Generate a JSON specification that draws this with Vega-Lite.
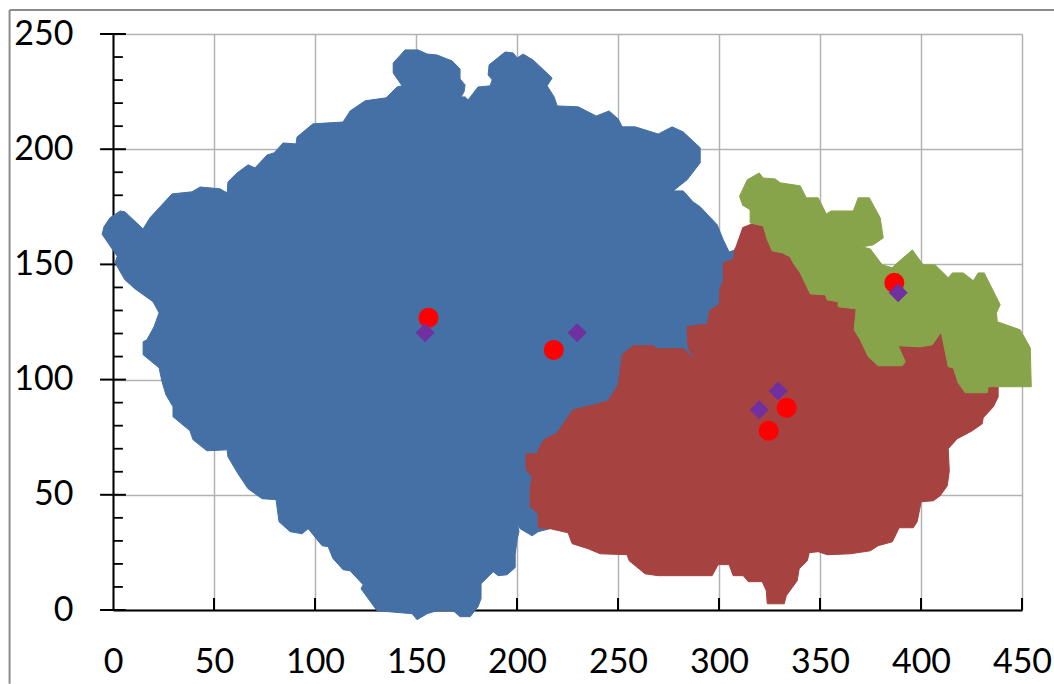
{"$schema":"https://vega.github.io/schema/vega-lite/v6.json","width":909,"height":576,"autosize":{"type":"none"},"padding":{"left":113,"top":34,"right":32,"bottom":74},"background":"white","config":{"view":{"stroke":null}},
"datasets":{
"frame":[{"x":-51.2,"x2":-51.2,"y":-32,"y2":260.4},{"x":-51.2,"x2":466,"y":260.4,"y2":260.4}],
"hmajor":[{"x":-6.4,"x2":6.4,"y":0},{"x":-6.4,"x2":6.4,"y":50},{"x":-6.4,"x2":6.4,"y":100},{"x":-6.4,"x2":6.4,"y":150},{"x":-6.4,"x2":6.4,"y":200},{"x":-6.4,"x2":6.4,"y":250}],
"hminor":[{"x":0,"x2":4.9,"y":10},{"x":0,"x2":4.9,"y":20},{"x":0,"x2":4.9,"y":30},{"x":0,"x2":4.9,"y":40},{"x":0,"x2":4.9,"y":60},{"x":0,"x2":4.9,"y":70},{"x":0,"x2":4.9,"y":80},{"x":0,"x2":4.9,"y":90},{"x":0,"x2":4.9,"y":110},{"x":0,"x2":4.9,"y":120},{"x":0,"x2":4.9,"y":130},{"x":0,"x2":4.9,"y":140},{"x":0,"x2":4.9,"y":160},{"x":0,"x2":4.9,"y":170},{"x":0,"x2":4.9,"y":180},{"x":0,"x2":4.9,"y":190},{"x":0,"x2":4.9,"y":210},{"x":0,"x2":4.9,"y":220},{"x":0,"x2":4.9,"y":230},{"x":0,"x2":4.9,"y":240}],
"xticks":[{"x":50,"y":0,"y2":5.2},{"x":100,"y":0,"y2":5.2},{"x":150,"y":0,"y2":5.2},{"x":200,"y":0,"y2":5.2},{"x":250,"y":0,"y2":5.2},{"x":300,"y":0,"y2":5.2},{"x":350,"y":0,"y2":5.2},{"x":400,"y":0,"y2":5.2},{"x":450,"y":0,"y2":5.2}],
"blue":[[-5.4,162.8],[-4.5,166.3],[-1.5,170.2],[3.5,173.2],[5.9,172.8],[14.9,165.4],[18.3,170.2],[23.3,175],[29.2,180.6],[39.1,181.5],[43.1,183.6],[53,182.8],[56.5,181],[56.9,185.8],[61.4,189.7],[66.9,193.2],[70.3,191.9],[76.3,197.5],[79.7,198.4],[84.2,202.7],[90.6,202.3],[91.1,205.3],[99,211],[113.9,211.8],[117.4,216.6],[124.8,221],[135.2,222.3],[140.6,227],[143.1,227.5],[138.7,233.1],[138.7,237.4],[144.6,243.1],[151,243.1],[155.5,241.3],[160.4,240.9],[167.9,238.3],[171.8,234.8],[171.8,230.5],[174.3,227.9],[173.8,224.9],[172.3,222.7],[174.3,222.7],[175.8,221.4],[180.7,227],[186.7,227.5],[187.7,230.1],[185.7,232.2],[186.2,236.6],[194.1,242.2],[198.1,241.8],[200.1,239.6],[203,241.3],[208,238.7],[217.4,230.9],[214.9,227.5],[218.4,222.7],[219.9,218.8],[230.3,218.4],[239.2,214.4],[245.6,216.6],[250.1,213.1],[252.1,209.7],[258.5,209.7],[269.9,206.6],[276.8,209.7],[282.3,207.5],[290.7,200.6],[290.7,194.1],[284.2,186.7],[277.3,181.9],[282.3,181.9],[287.2,177.1],[290.7,175],[299.1,167.2],[302.1,160.7],[305,155.4],[308,156.3],[310.5,134.6],[298.1,91.2],[265.9,82.6],[231.3,73.9],[213.9,56.5],[216.4,35.3],[210.5,34],[207.5,32.2],[201.5,35.3],[200.1,37.9],[201,34],[200.1,30.9],[199.1,24],[199.1,18.4],[195.1,15.3],[190.7,14.9],[188.2,16.6],[182.2,11.4],[182.2,4.9],[180.7,1.4],[176.8,-2.9],[171.8,-2.9],[168.4,-0.3],[160.4,-0.3],[155.5,-1.6],[150.5,-4.2],[148.1,-1.6],[130.7,-0.3],[122.8,9.2],[123.8,11],[117.4,17],[113.9,17.5],[108.9,22.3],[106.5,27.5],[103.5,27.9],[96.6,35.3],[93.6,33.1],[87.7,34],[82.2,38.3],[80.7,47.9],[73.8,48.3],[66.9,52.6],[61.9,59.1],[56.9,66.5],[56.5,69.5],[46.5,69.1],[39.6,73.9],[38.1,77.8],[29.7,83.9],[29.7,88.2],[26.2,93.4],[24.3,99],[22.8,105.1],[14.9,110.8],[14.9,116.4],[16.8,117.3],[20.3,122.9],[22.8,129],[19.8,133.8],[10.9,139.4],[5.9,143.3],[1,150.7],[2,153.3]],
"red":[[311.5,165.9],[316.4,167.6],[321.9,166.7],[340.2,156.3],[369.9,139],[379.8,117.3],[407,119.4],[410,120.7],[426.9,108.6],[431.8,98.2],[438.2,98.2],[438.2,92.5],[435.8,88.2],[430.8,83.4],[430.3,80.8],[425.4,77.8],[417.9,74.3],[413.5,70],[414,60.4],[413,53.9],[409.5,49.6],[406.1,47.4],[400.1,47],[398.1,38.3],[396.2,35.7],[389.2,35.7],[385.8,29.6],[378.8,27.9],[374.9,25.7],[365,24.4],[353.6,24],[349.1,25.3],[344.7,24.9],[343.7,21.4],[339.7,17.9],[338.7,12.7],[333.3,6.2],[332.3,2.7],[323.9,2.7],[323.4,8.4],[321.4,12.3],[314.5,12.3],[312,14.9],[307,14.9],[305,19.7],[299.6,19.7],[296.6,14.9],[290.7,14.9],[269.9,14.9],[263.4,15.7],[255.5,21.4],[254.5,24],[241.2,24.4],[235.2,26.6],[227.3,28.8],[225.3,33.5],[216.4,35.3],[210.5,35.7],[210.5,41.8],[206.5,44.8],[206.5,52.6],[207.5,57.8],[204.5,60.9],[204.5,67.8],[210,67.8],[211,70.4],[213.4,73.9],[219.9,76.9],[227.8,86.9],[240.2,89.5],[245.1,90.8],[250.1,97.7],[252.1,110.8],[257.5,114.7],[267.4,114.7],[269.4,113.4],[282.3,113.4],[289.2,107.7],[284.7,113.4],[284.2,122.9],[290.7,123.8],[294.2,123.8],[295.6,130.3],[300.1,132.5],[300.6,140.3],[302.1,142.4],[302.1,150.7],[307,152],[308,157.2]],
"green":[[310,179.3],[314,186.7],[319.9,189.7],[321.9,187.5],[327.8,187.1],[330.3,185.4],[340.2,184.1],[343.2,178.9],[349.1,178.9],[353.1,171.9],[355.6,173.2],[366.5,173.2],[368.9,178.9],[374.4,178.9],[379.8,170.2],[381.3,161.5],[376.4,158.5],[370.9,157.6],[374.9,156.7],[380.8,149.8],[385.8,148.5],[387.2,149.8],[395.7,156.3],[401.1,149.8],[407,149.8],[413.5,144.2],[415.5,146.3],[420.9,146.3],[425.9,142.9],[428.3,146.3],[431.3,146.3],[439.2,132.5],[437.3,129],[437.8,125.1],[449.1,121.6],[454.1,113.8],[454.6,96.9],[433.3,96.9],[432.8,94.3],[421.9,94.3],[418.4,98.6],[416,105.1],[413.5,105.6],[410,120.7],[405.6,115.1],[399.6,114.2],[388.7,114.7],[392.2,107.7],[390.7,106],[378.8,106],[373.9,109.9],[369.9,117.3],[366.9,121.6],[367.9,130.7],[359,131.6],[359,133.8],[353.6,134.6],[352.6,136.8],[345.2,137.2],[340.2,146.3],[336.7,150.7],[335.2,153.3],[331.3,155],[326.3,155.9],[323.9,160.7],[321.9,166.7],[315.4,168],[315.4,173.7],[311.5,175.8]],
"circles":[{"x":156.2,"y":126.8},{"x":218.2,"y":112.9},{"x":333.5,"y":87.8},{"x":324.6,"y":77.8},{"x":386.8,"y":142}],
"diamonds":[{"x":154.5,"y":120.3},{"x":229.8,"y":120.3},{"x":388.7,"y":137.7},{"x":329.3,"y":95.1},{"x":319.9,"y":86.9}]
},
"data":{"name":"frame"},
"encoding":{
"x":{"field":"x","type":"quantitative","scale":{"domain":[0,450],"nice":false,"zero":false},"axis":{"title":null,"values":[0,50,100,150,200,250,300,350,400,450],"grid":true,"gridColor":"#b2b2b2","gridWidth":1.5,"domain":true,"domainColor":"#000000","domainWidth":2,"ticks":false,"labelFont":"Lato","labelFontSize":34,"labelColor":"#000000","labelPadding":35,"labelFlush":false,"labelOverlap":false,"labelBound":false}},
"y":{"field":"y","type":"quantitative","scale":{"domain":[0,250],"nice":false,"zero":false},"axis":{"title":null,"values":[0,50,100,150,200,250],"grid":true,"gridColor":"#b2b2b2","gridWidth":1.5,"domain":true,"domainColor":"#000000","domainWidth":2,"ticks":false,"labelFont":"Lato","labelFontSize":34,"labelColor":"#000000","labelPadding":40,"labelFlush":false,"labelOverlap":false,"labelBound":false}}
},
"layer":[
{"data":{"name":"frame"},"mark":{"type":"rule","color":"#8c8c8c","strokeWidth":2},"encoding":{"x2":{"field":"x2"},"y2":{"field":"y2"}}},
{"data":{"name":"hmajor"},"mark":{"type":"rule","color":"#000000","strokeWidth":2},"encoding":{"x2":{"field":"x2"}}},
{"data":{"name":"hminor"},"mark":{"type":"rule","color":"#000000","strokeWidth":1.8},"encoding":{"x2":{"field":"x2"}}},
{"data":{"name":"xticks"},"mark":{"type":"rule","color":"#000000","strokeWidth":2},"encoding":{"y2":{"field":"y2"}}},
{"data":{"name":"blue"},"transform":[{"calculate":"datum[0]","as":"x"},{"calculate":"datum[1]","as":"y"},{"window":[{"op":"row_number","as":"i"}]}],"mark":{"type":"line","fill":"#4470a6","stroke":"#4470a6","strokeWidth":1},"encoding":{"order":{"field":"i","type":"quantitative"}}},
{"data":{"name":"red"},"transform":[{"calculate":"datum[0]","as":"x"},{"calculate":"datum[1]","as":"y"},{"window":[{"op":"row_number","as":"i"}]}],"mark":{"type":"line","fill":"#a6423f","stroke":"#a6423f","strokeWidth":1},"encoding":{"order":{"field":"i","type":"quantitative"}}},
{"data":{"name":"green"},"transform":[{"calculate":"datum[0]","as":"x"},{"calculate":"datum[1]","as":"y"},{"window":[{"op":"row_number","as":"i"}]}],"mark":{"type":"line","fill":"#88a44b","stroke":"#88a44b","strokeWidth":1},"encoding":{"order":{"field":"i","type":"quantitative"}}},
{"data":{"name":"circles"},"mark":{"type":"point","shape":"circle","filled":true,"color":"#ff0000","size":400,"opacity":1}},
{"data":{"name":"diamonds"},"mark":{"type":"point","shape":"diamond","filled":true,"color":"#7030a0","size":361,"opacity":1}}
]}
